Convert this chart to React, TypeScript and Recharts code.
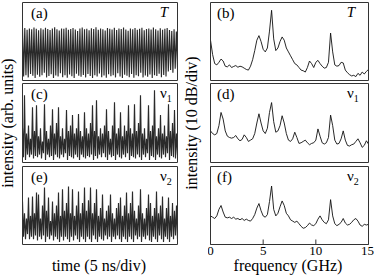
import React from "react";
import { LineChart, Line, XAxis, YAxis } from "recharts";

// time traces, read as successive maxima / minima of the fast oscillation (arb. units, 3 units per panel)
const totalHigh = [
  1.98, 2.02, 1.95, 2.0, 1.97, 2.04, 1.99, 1.93, 2.01, 1.96,
  2.03, 1.98, 1.94, 2.0, 2.05, 1.97, 1.92, 2.0, 1.99, 2.03,
  1.95, 1.98, 2.02, 1.96, 1.9, 2.0, 2.04, 1.97, 1.99, 1.93,
  2.01, 1.98, 2.05, 1.95, 2.0, 1.97, 1.92, 2.02, 1.99, 1.96,
  2.03, 1.94, 2.0, 1.98, 2.04, 1.96, 1.91, 2.0, 1.97, 2.02,
  1.95, 1.99, 2.03, 1.93, 1.98, 2.0, 1.96, 2.04, 1.97, 1.92,
  2.01, 1.95, 1.99, 2.02, 1.94, 1.9, 1.97, 1.88,
];
const totalLow = [
  0.15, 0.2, 0.12, 0.25, 0.18, 0.1, 0.22, 0.14, 0.2, 0.3,
  0.12, 0.17, 0.24, 0.1, 0.19, 0.15, 0.28, 0.13, 0.2, 0.11,
  0.23, 0.16, 0.1, 0.26, 0.18, 0.14, 0.21, 0.12, 0.25, 0.17,
  0.1, 0.2, 0.15, 0.27, 0.13, 0.19, 0.11, 0.24, 0.16, 0.2,
  0.12, 0.28, 0.15, 0.1, 0.22, 0.18, 0.13, 0.25, 0.11, 0.2,
  0.16, 0.3, 0.12, 0.19, 0.14, 0.23, 0.1, 0.2, 0.17, 0.26,
  0.13, 0.21, 0.15, 0.35, 0.4, 0.3, 0.45, 0.5,
];

const nu1High = [
  1.3, 2.55, 1.1, 1.4, 0.9, 2.1, 1.2, 2.17, 1.0, 1.3,
  0.8, 2.21, 1.2, 0.9, 1.4, 2.02, 1.1, 1.5, 2.1, 1.0,
  1.3, 0.9, 1.99, 1.2, 1.4, 1.8, 1.1, 1.3, 1.84, 1.2,
  1.0, 1.91, 1.3, 1.1, 1.5, 2.17, 1.2, 2.36, 1.0, 1.3,
  1.1, 1.4, 2.02, 1.2, 0.9, 1.4, 2.29, 1.1, 1.3, 1.91,
  1.0, 1.4, 1.2, 2.17, 1.3, 1.1, 2.21, 1.2, 1.5, 2.55,
  1.1, 1.3, 0.9, 2.17, 1.2, 1.4, 2.74, 1.0, 1.3, 1.8,
  1.1, 1.4, 1.0, 2.21, 1.2, 1.5, 1.99, 1.1,
];
const nu1Low = [
  0.2, 0.1, 0.3, 0.2, 0.3, 0.15, 0.25, 0.2, 0.3, 0.15,
  0.35, 0.1, 0.3, 0.2, 0.25, 0.1, 0.3, 0.2, 0.15, 0.3,
  0.2, 0.35, 0.1, 0.25, 0.2, 0.15, 0.3, 0.2, 0.1, 0.3,
  0.2, 0.15, 0.25, 0.2, 0.3, 0.1, 0.25, 0.15, 0.3, 0.2,
  0.35, 0.2, 0.1, 0.3, 0.2, 0.25, 0.1, 0.3, 0.2, 0.15,
  0.3, 0.2, 0.35, 0.1, 0.25, 0.2, 0.15, 0.3, 0.2, 0.1,
  0.3, 0.2, 0.35, 0.1, 0.25, 0.2, 0.1, 0.3, 0.2, 0.15,
  0.3, 0.2, 0.35, 0.1, 0.25, 0.2, 0.15, 0.3,
];

const nu2High = [
  1.65, 1.2, 1.0, 1.81, 1.1, 1.85, 1.2, 2.0, 1.92, 1.0,
  1.5, 2.19, 1.3, 1.81, 0.9, 1.65, 1.2, 1.5, 2.0, 1.1,
  2.12, 1.3, 1.6, 2.23, 1.2, 2.12, 1.1, 1.5, 2.04, 1.2,
  1.6, 2.19, 1.3, 1.7, 2.19, 1.2, 1.6, 2.12, 1.1, 1.4,
  1.92, 1.0, 1.3, 1.5, 1.92, 1.2, 1.0, 1.4, 1.6, 1.81,
  1.1, 1.5, 2.0, 1.2, 1.6, 2.04, 1.3, 1.0, 1.5, 2.12,
  1.2, 1.0, 1.4, 1.92, 1.6, 1.1, 1.4, 2.04, 1.2, 1.5,
  1.85, 1.0, 1.4, 1.81, 1.1, 1.6, 1.3, 1.5,
];
const nu2Low = [
  0.3, 0.2, 0.4, 0.2, 0.3, 0.2, 0.35, 0.15, 0.3, 0.2,
  0.35, 0.1, 0.3, 0.2, 0.35, 0.15, 0.3, 0.2, 0.1, 0.3,
  0.15, 0.3, 0.2, 0.1, 0.3, 0.15, 0.35, 0.2, 0.1, 0.3,
  0.2, 0.1, 0.3, 0.2, 0.1, 0.35, 0.2, 0.1, 0.3, 0.2,
  0.15, 0.35, 0.2, 0.3, 0.1, 0.3, 0.2, 0.35, 0.2, 0.1,
  0.3, 0.2, 0.1, 0.3, 0.2, 0.1, 0.35, 0.2, 0.3, 0.1,
  0.3, 0.2, 0.35, 0.15, 0.1, 0.3, 0.2, 0.1, 0.35, 0.2,
  0.1, 0.3, 0.2, 0.1, 0.3, 0.2, 0.35, 0.2,
];

// spectra (dB above panel floor)
const freqGHz = [
  0, 0.2, 0.4, 0.6, 0.8, 1.0, 1.2, 1.4, 1.6, 1.8,
  2.0, 2.2, 2.4, 2.6, 2.8, 3.0, 3.2, 3.4, 3.6, 3.8,
  4.0, 4.2, 4.4, 4.6, 4.8, 5.0, 5.2, 5.4, 5.6, 5.8,
  6.0, 6.2, 6.4, 6.6, 6.8, 7.0, 7.2, 7.4, 7.6, 7.8,
  8.0, 8.2, 8.4, 8.6, 8.8, 9.0, 9.2, 9.4, 9.6, 9.8,
  10.0, 10.2, 10.4, 10.6, 10.8, 11.0, 11.2, 11.4, 11.6, 11.8,
  12.0, 12.2, 12.4, 12.6, 12.8, 13.0, 13.2, 13.4, 13.6, 13.8,
  14.0, 14.2, 14.4, 14.6, 14.8, 15.0,
];
const specTotal = [
  31, 20, 13, 12, 14, 16.5, 15, 11, 10.5, 12,
  10, 10.8, 11.5, 10.2, 11, 10.5, 9.5, 8.5, 8, 11,
  16, 23, 31, 34.5, 30, 24, 22, 25, 38, 54,
  32, 23, 25, 30, 33.5, 31, 25, 22, 19, 16,
  13, 12, 10, 8, 7.5, 6.5, 10, 15, 13, 10,
  14, 15.5, 13, 11, 9.5, 10, 14, 36.5, 22, 12,
  11, 11.5, 14, 13.5, 8, 6, 4.5, 3.5, 4, 3,
  5.5, 4, 6.5, 5, 7, 8.5,
];
const specNu1 = [
  24, 22, 21, 22, 28, 38, 33, 24, 20, 19,
  18.5, 19, 20.5, 18, 16.5, 17.5, 21, 19, 16, 17,
  18, 22, 30, 37, 30, 24, 22, 26, 38, 45.5,
  31, 23, 24, 28, 35.5, 30, 22, 17, 16, 18,
  23, 19, 14.5, 15, 16, 17, 15, 13.5, 14.5, 15,
  17, 25.5, 20, 15, 14, 15, 19, 36, 28, 17,
  14, 14.5, 18, 24, 17, 13, 12.5, 13.5, 14, 16,
  18, 15, 11.5, 13, 16.5, 14,
];
const specNu2 = [
  22, 21, 20, 22, 27, 30, 25, 21, 20.5, 21,
  20, 21, 19.5, 20, 19, 20, 18.5, 19.5, 18.5, 18,
  20, 23, 28, 31.5, 26, 22, 21, 23, 33, 45,
  27, 22, 24, 29, 33.5, 30, 24, 22, 19, 18,
  17, 18, 16, 14, 12.5, 13, 14.5, 16.5, 15, 14.5,
  16, 19.5, 22, 19, 17, 16, 19, 34.5, 22, 16,
  14.5, 15.5, 17, 20, 16.5, 15, 15.5, 17, 19, 20,
  18, 15, 14, 15.5, 15, 15.5,
];

const timeTicks = [5, 10];
const levelTicks = [1, 2];
const freqTicks = [0, 5, 10, 15];
const dbTicks = [10, 20, 30, 40, 50];

const FONT = "'Liberation Serif', 'DejaVu Serif', serif";
const frame = { stroke: "#333", strokeWidth: 1 };

type Pt = { x: number; y: number };

function trace(high: number[], low: number[]): Pt[] {
  const vals: number[] = [];
  high.forEach((h, i) => vals.push(h, low[i]));
  const dt = 15 / (vals.length - 1);
  return vals.map((v, i) => ({ x: i * dt, y: v }));
}

function spectrum(db: number[]): Pt[] {
  return freqGHz.map((f, i) => ({ x: f, y: db[i] }));
}

const FreqTick = (props: any) => {
  const { x, y, payload } = props;
  const last = payload.value === 15;
  return (
    <text x={last ? x + 5.5 : x} y={y} dy={17} textAnchor={last ? "end" : "middle"}
      fontFamily={FONT} fontSize={13} fill="#000">
      {payload.value}
    </text>
  );
};

type PanelProps = {
  left: number;
  top: number;
  width: number;
  height: number;
  data: Pt[];
  xDomain: [number, number];
  xTicks: number[];
  yDomain: [number, number];
  yTicks: number[];
  lineColor: string;
  lineWidth: number;
  xLabels?: boolean;
};

function Panel(p: PanelProps) {
  const extra = p.xLabels ? 26 : 0;
  const side = p.xLabels ? 3 : 0;
  return (
    <div style={{ position: "absolute", left: p.left - 2, top: p.top - 2 }}>
      <LineChart
        width={p.width + 5 + side}
        height={p.height + 5 + extra}
        data={p.data}
        margin={{ top: 2.5, right: 2.5 + side, bottom: 2.5 + extra, left: 2.5 }}
      >
        <XAxis xAxisId="b" dataKey="x" type="number" domain={p.xDomain} ticks={p.xTicks} orientation="bottom"
          mirror tickSize={5} interval={0} axisLine={frame} tickLine={frame}
          tick={p.xLabels ? <FreqTick /> : false} allowDataOverflow />
        <XAxis xAxisId="t" dataKey="x" type="number" domain={p.xDomain} ticks={p.xTicks} orientation="top"
          mirror tickSize={5} interval={0} axisLine={frame} tickLine={frame} tick={false} allowDataOverflow />
        <YAxis yAxisId="l" type="number" domain={p.yDomain} ticks={p.yTicks} orientation="left"
          mirror tickSize={5} interval={0} axisLine={frame} tickLine={frame} tick={false} allowDataOverflow />
        <YAxis yAxisId="r" type="number" domain={p.yDomain} ticks={p.yTicks} orientation="right"
          mirror tickSize={5} interval={0} axisLine={frame} tickLine={frame} tick={false} allowDataOverflow />
        <Line xAxisId="b" yAxisId="l" type="linear" dataKey="y" stroke={p.lineColor} strokeWidth={p.lineWidth}
          dot={false} activeDot={false} isAnimationActive={false} />
      </LineChart>
    </div>
  );
}

const rows = [
  { top: 2, height: 78 },
  { top: 83, height: 79 },
  { top: 166, height: 78 },
];
const LEFT = { left: 22, width: 155 };
const RIGHT = { left: 210, width: 158 };

const traces = [trace(totalHigh, totalLow), trace(nu1High, nu1Low), trace(nu2High, nu2Low)];
const spectra = [spectrum(specTotal), spectrum(specNu1), spectrum(specNu2)];
const leftTags = ["(a)", "(c)", "(e)"];
const rightTags = ["(b)", "(d)", "(f)"];
const modes = [null, "1", "2"];

function ModeLabel({ x, y, sub }: { x: number; y: number; sub: string | null }) {
  if (sub === null) {
    return (
      <text x={x + 8} y={y} textAnchor="end" fontFamily={FONT} fontSize={15} fontStyle="italic">T</text>
    );
  }
  return (
    <text x={x} y={y} fontFamily={FONT} fontSize={15}>
      ν<tspan fontSize={10} dy={4}>{sub}</tspan>
    </text>
  );
}

export default function App() {
  return (
    <div style={{ position: "absolute", left: 0, top: 0, width: 374, height: 275, background: "#fff", overflow: "hidden" }}>
      {rows.map((r, i) => (
        <Panel key={"t" + i} left={LEFT.left} top={r.top} width={LEFT.width} height={r.height}
          data={traces[i]} xDomain={[0, 15]} xTicks={timeTicks} yDomain={[0, 3]} yTicks={levelTicks}
          lineColor="#2a2a2a" lineWidth={1.15} />
      ))}
      {rows.map((r, i) => (
        <Panel key={"s" + i} left={RIGHT.left} top={r.top} width={RIGHT.width} height={r.height}
          data={spectra[i]} xDomain={[0, 15]} xTicks={freqTicks} yDomain={[0, 60]} yTicks={dbTicks}
          lineColor="#111" lineWidth={0.9} xLabels={i === 2} />
      ))}
      <svg width={374} height={275} style={{ position: "absolute", left: 0, top: 0, pointerEvents: "none" }}>
        {rows.map((r, i) => (
          <g key={i}>
            <text x={31} y={r.top + 16} fontFamily={FONT} fontSize={15}>{leftTags[i]}</text>
            <ModeLabel x={160} y={r.top + 15} sub={modes[i]} />
            <text x={217} y={r.top + 16} fontFamily={FONT} fontSize={15}>{rightTags[i]}</text>
            <ModeLabel x={347} y={r.top + 15} sub={modes[i]} />
          </g>
        ))}
        <text transform="translate(13,123) rotate(-90)" textAnchor="middle" fontFamily={FONT} fontSize={16}>
          intensity (arb. units)
        </text>
        <text transform="translate(197,123) rotate(-90)" textAnchor="middle" fontFamily={FONT} fontSize={16}>
          intensity (10 dB/div)
        </text>
        <text x={99} y={271} textAnchor="middle" fontFamily={FONT} fontSize={16}>time (5 ns/div)</text>
        <text x={288} y={271} textAnchor="middle" fontFamily={FONT} fontSize={16}>frequency (GHz)</text>
      </svg>
    </div>
  );
}
